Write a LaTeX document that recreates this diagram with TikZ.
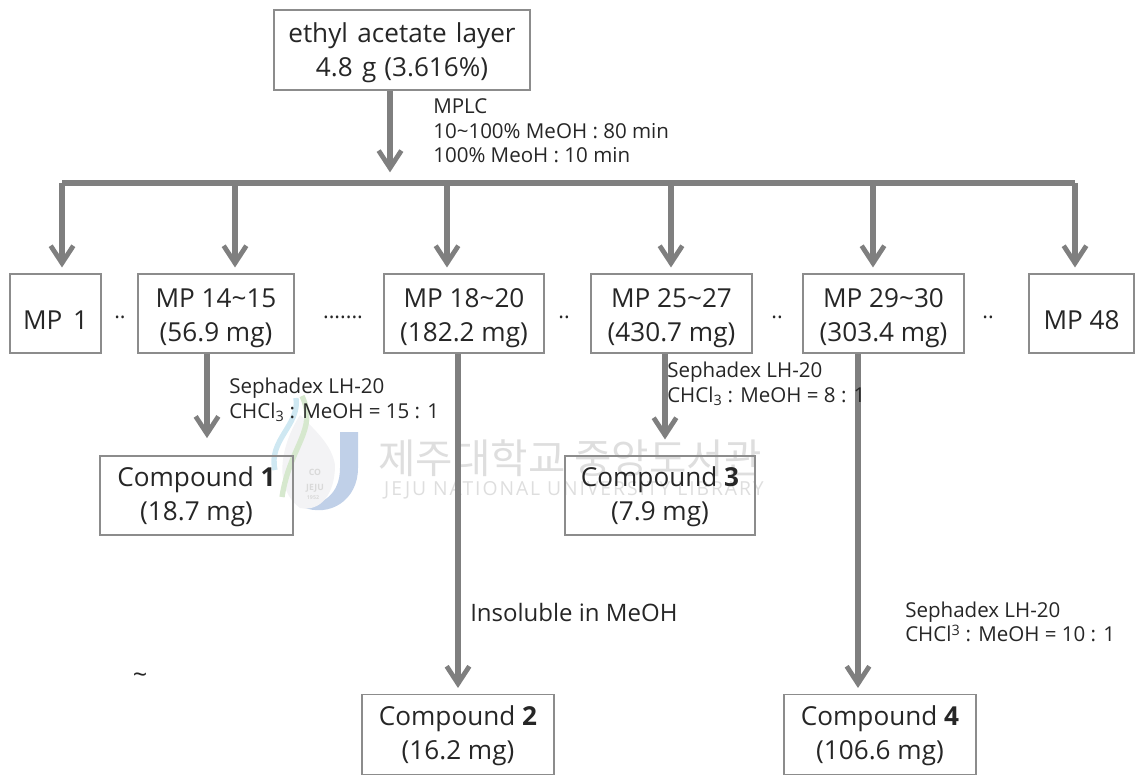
\documentclass[tikz,border=0pt]{standalone}
\usepackage{fontspec}
\usetikzlibrary{arrows.meta}
\setmainfont{Open Sans}
\newfontfamily\cjk{Noto Sans CJK KR}
\newfontfamily\wmfont[LetterSpace=10]{Open Sans}
\definecolor{flow}{HTML}{7F7F7F}
\definecolor{edge}{HTML}{8C8C8C}
\definecolor{ink}{HTML}{262626}
\definecolor{wm}{HTML}{DEDEDE}
\definecolor{wmj}{HTML}{C0D0E8}
\definecolor{wmdrop}{HTML}{F3F3F5}
\definecolor{wmcyan}{HTML}{CFE8F2}
\definecolor{wmgreen}{HTML}{D6E8CE}
\tikzset{
  x=0.75pt,y=-0.75pt,
  box/.style={draw=edge,line width=0.8pt,text=ink,inner sep=0pt,font=\fontsize{19.6}{25.5}\selectfont},
  flowline/.style={draw=flow,line width=3.9pt},
  flowarrow/.style={flowline,-{Straight Barb[length=13pt,width=17pt,line width=3.6pt]},shorten >=4.5pt},
  cond/.style={anchor=west,align=left,text=ink,inner sep=0pt,font=\fontsize{15.4}{18.5}\selectfont},
  dots/.style={text=ink,inner sep=0pt,font=\fontsize{16}{16}\selectfont},
  wmlabel/.style={inner sep=0pt,text=gray!30,font=\bfseries\fontsize{6.5}{7}\selectfont},
}
\newcommand{\boxdrop}{5.9pt}
\newcommand{\boxnode}[6]{\node[box,minimum width=#4*0.75pt,minimum height=#5*0.75pt] (#1) at (#2,#3) {\raisebox{-\boxdrop}[9pt][9pt]{\begin{tabular}{@{}c@{}}#6\end{tabular}}};}
\begin{document}
\begin{tikzpicture}
\useasboundingbox (0,0) rectangle (1136,775);
% watermark
\fill[wmj] (340,432) -- (340,468) .. controls (340,495) and (322,505) .. (302,507) .. controls (330,518) and (358,500) .. (358,468) -- (358,432) -- cycle;
\fill[wmdrop] (300,415) .. controls (278,450) and (275,490) .. (300,508) .. controls (320,512) and (335,495) .. (335,465) .. controls (332,445) and (315,430) .. (300,415) -- cycle;
\draw[wmcyan,line width=4pt] (296,398) .. controls (300,425) and (268,440) .. (275,470);
\draw[wmgreen,line width=4pt] (302,396) .. controls (318,430) and (290,445) .. (282,497);
\node[wmlabel] (wm3) at (315,472) {CO};
\node[wmlabel] (wm0) at (315,488) {JEJU};
\node[wmlabel,font=\bfseries\fontsize{4}{5}\selectfont] (wm4) at (313,498) {1952};
\node[inner sep=0pt,text=wm,font=\cjk\fontsize{30.5}{30}\selectfont] (wm1) at (570,458) {제주대학교 중앙도서관};
\node[inner sep=0pt,text=wm,font=\wmfont\fontsize{14.5}{14}\selectfont] (wm2) at (574,490) {JEJU NATIONAL UNIVERSITY LIBRARY};
% boxes
\renewcommand{\boxdrop}{7.4pt}
\boxnode{top}{402}{50}{256}{80}{ethyl\hspace{7pt}acetate\hspace{7pt}layer\\4.8\hspace{7pt}g\hspace{6pt}(3.616\%)}
\renewcommand{\boxdrop}{12pt}
\boxnode{mpa}{55.5}{313.5}{91}{79}{MP\hspace{8pt}1}
\boxnode{mpf}{1081.5}{313.5}{105}{79}{MP 48}
\renewcommand{\boxdrop}{8.2pt}
\boxnode{mpb}{216}{313.5}{156}{79}{MP 14\char`~15\\(56.9 mg)}
\boxnode{mpc}{464}{313.5}{160}{79}{MP 18\char`~20\\(182.2 mg)}
\boxnode{mpd}{671.5}{313.5}{161}{79}{MP 25\char`~27\\(430.7 mg)}
\boxnode{mpe}{883.5}{313.5}{161}{79}{MP 29\char`~30\\(303.4 mg)}
\renewcommand{\boxdrop}{5.9pt}
\boxnode{ca}{196.5}{495.5}{193}{79}{Compound \textbf{1}\\(18.7 mg)}
\boxnode{cc}{660}{495.5}{190}{79}{Compound \textbf{3}\\(7.9 mg)}
\boxnode{cb}{458}{734.5}{192}{80}{Compound \textbf{2}\\(16.2 mg)}
\boxnode{cd}{880}{734.5}{192}{80}{Compound \textbf{4}\\(106.6 mg)}
% bus
\coordinate (busT) at (390,183);
\coordinate (bus1) at (62,183);
\coordinate (bus2) at (235,183);
\coordinate (bus3) at (447,183);
\coordinate (bus4) at (671,183);
\coordinate (bus5) at (873,183);
\coordinate (bus6) at (1075,183);
\draw[flowline] (bus1) -- (bus6);
\draw[flowarrow,shorten >=8pt] (top.south -| busT) -- (busT);
\draw[flowarrow] (bus1) -- (mpa.north -| bus1);
\draw[flowarrow] (bus2) -- (mpb.north -| bus2);
\draw[flowarrow] (bus3) -- (mpc.north -| bus3);
\draw[flowarrow] (bus4) -- (mpd.north -| bus4);
\draw[flowarrow] (bus5) -- (mpe.north -| bus5);
\draw[flowarrow] (bus6) -- (mpf.north -| bus6);
\coordinate (xa) at (207,400);
\coordinate (xb) at (458,400);
\coordinate (xc) at (665,400);
\coordinate (xd) at (858,400);
\draw[flowarrow,shorten >=13pt] (mpb.south -| xa) -- (ca.north -| xa);
\draw[flowarrow] (mpc.south -| xb) -- (cb.north -| xb);
\draw[flowarrow,shorten >=12pt] (mpd.south -| xc) -- (cc.north -| xc);
\draw[flowarrow] (mpe.south -| xd) -- (cd.north -| xd);
% labels
\node[cond] (lt) at (433,131) {MPLC\\10\char`~100\% MeOH : 80 min\\100\% MeoH : 10 min};
\node[cond] (la) at (229,400) {Sephadex LH-20\\CHCl\textsubscript{3} : MeOH = 15 : 1};
\node[cond] (lc) at (667,384) {Sephadex LH-20\\CHCl\textsubscript{3} : MeOH = 8 : 1};
\node[cond] (ld) at (905,622) {Sephadex LH-20\\CHCl\textsuperscript{3} : MeOH = 10 : 1};
\node[cond,font=\fontsize{18}{22}\selectfont] (lb) at (470,612) {Insoluble in MeOH};
\node[dots] (d1) at (120,317) {..};
\node[dots] (d2) at (343,317) {.......};
\node[dots] (d3) at (564,317) {..};
\node[dots] (d4) at (777,317) {..};
\node[dots] (d5) at (988,317) {..};
\node[inner sep=0pt,text=ink,font=\fontsize{19}{19}\selectfont] (tilde) at (140,678) {\char`~};
\end{tikzpicture}
\end{document}
